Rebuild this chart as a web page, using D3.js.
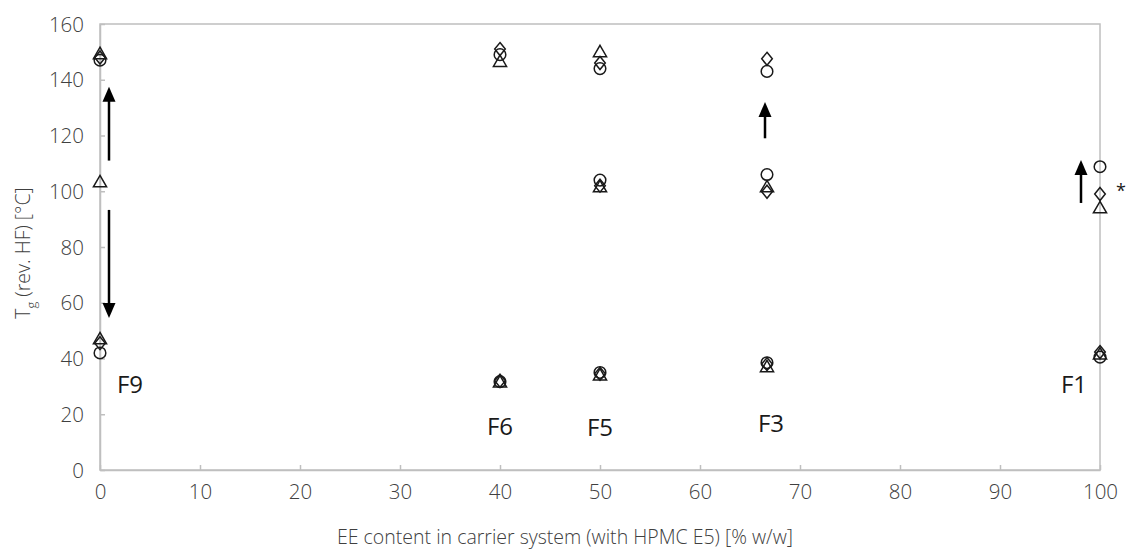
<!DOCTYPE html>
<html>
<head>
<meta charset="utf-8">
<script src="https://cdn.jsdelivr.net/npm/d3@7"></script>
<style>
  body { margin: 0; background: #fff; }
  svg { display: block; font-family: "Open Sans", sans-serif; }
</style>
</head>
<body>
<svg id="chart" width="1127" height="554"></svg>
<script>
// EE content (% w/w) and Tg values
const circlePts = [
  [0, 147], [0, 42],
  [40, 149], [40, 31.7],
  [50, 144], [50, 104], [50, 35],
  [66.7, 143], [66.7, 106], [66.7, 38.5],
  [100, 108.8], [100, 40.5]
];
const trianglePts = [
  [0, 149.3], [0, 103.3], [0, 47],
  [40, 146.5], [40, 31.5],
  [50, 150], [50, 101.5], [50, 34],
  [66.7, 101.5], [66.7, 37],
  [100, 94], [100, 41.5]
];
const diamondPts = [
  [0, 148], [0, 45.5],
  [40, 151], [40, 32],
  [50, 146], [50, 102], [50, 34.5],
  [66.7, 147.5], [66.7, 99.8], [66.7, 38],
  [100, 99], [100, 42.3]
];
const labels = [
  { text: "F9", x: 3, y: 30.5 },
  { text: "F6", x: 40, y: 15.5 },
  { text: "F5", x: 50, y: 15.3 },
  { text: "F3", x: 67.1, y: 16.8 },
  { text: "F1", x: 97.4, y: 30.5 }
];
// arrows: x, from, to (data units)
const arrows = [
  [0.9, 111, 137.5],
  [0.9, 93.3, 54.5],
  [66.5, 119, 132],
  [98.1, 95.8, 111.2]
];
const xTicks = [0, 10, 20, 30, 40, 50, 60, 70, 80, 90, 100];
const yTicks = [0, 20, 40, 60, 80, 100, 120, 140, 160];

const svg = d3.select("#chart");
const x = d3.scaleLinear().domain([0, 100]).range([100, 1100]);
const y = d3.scaleLinear().domain([0, 160]).range([470, 24]);
const gray = "#bfbfbf";
const txt = "#404040";

// frame
svg.append("rect")
  .attr("x", x(0)).attr("y", y(160))
  .attr("width", x(100) - x(0)).attr("height", y(0) - y(160))
  .attr("fill", "none").attr("stroke", gray).attr("stroke-width", 1.5);

const xAxis = svg.append("g")
  .attr("transform", `translate(0,${y(0)})`)
  .call(d3.axisBottom(x).tickValues(xTicks).tickSizeInner(-5).tickSizeOuter(0).tickPadding(14));
const yAxis = svg.append("g")
  .attr("transform", `translate(${x(0)},0)`)
  .call(d3.axisLeft(y).tickValues(yTicks).tickSizeInner(-5).tickSizeOuter(0).tickPadding(16));
[xAxis, yAxis].forEach(g => {
  g.select(".domain").attr("stroke", gray).attr("stroke-width", 1.5);
  g.selectAll(".tick line").attr("stroke", gray).attr("stroke-width", 1.5);
  g.selectAll(".tick text").attr("fill", txt).style("font-size", "20.5px")
    .style("font-weight", 300)
    .style("font-family", "'Open Sans', sans-serif");
});
yAxis.selectAll(".tick text").attr("dy", "0.35em");

// axis titles
svg.append("text")
  .attr("x", 565).attr("y", 544)
  .attr("text-anchor", "middle").attr("fill", txt)
  .style("font-size", "19.5px").style("font-weight", 300)
  .text("EE content in carrier system (with HPMC E5) [% w/w]");

const yt = svg.append("text")
  .attr("transform", "translate(30,253) rotate(-90)")
  .attr("text-anchor", "middle").attr("fill", txt)
  .style("font-size", "19.5px").style("font-weight", 300);
yt.append("tspan").text("T");
yt.append("tspan").attr("dy", 6).style("font-size", "13px").text("g");
yt.append("tspan").attr("dy", -6).text(" (rev. HF) [°C]");

// markers
const sym = svg.append("g").attr("fill", "none").attr("stroke", "#1a1a1a").attr("stroke-width", 1.5);
sym.selectAll(".c").data(circlePts).join("circle")
  .attr("cx", d => x(d[0])).attr("cy", d => y(d[1])).attr("r", 5.8);
const tri = d3.symbol().type(d3.symbolTriangle).size(75);
sym.selectAll(".t").data(trianglePts).join("path")
  .attr("d", tri)
  .attr("transform", d => `translate(${x(d[0])},${y(d[1]) + 1})`);
sym.selectAll(".d").data(diamondPts).join("path")
  .attr("d", "M0,-6.5L5.3,0L0,6.5L-5.3,0Z")
  .attr("transform", d => `translate(${x(d[0])},${y(d[1])})`);

// arrows with filled heads
const headLen = 15, headHalf = 6.5;
const ag = svg.append("g");
arrows.forEach(([ax, from, to]) => {
  const px = x(ax), y1 = y(from), y2 = y(to);
  const dir = y2 < y1 ? -1 : 1;
  ag.append("line")
    .attr("x1", px).attr("x2", px)
    .attr("y1", y1).attr("y2", y2 - dir * headLen * 0.8)
    .attr("stroke", "#000").attr("stroke-width", 2.5);
  ag.append("path")
    .attr("d", `M${px},${y2}L${px - headHalf},${y2 - dir * headLen}L${px + headHalf},${y2 - dir * headLen}Z`)
    .attr("fill", "#000");
});

// formulation labels
svg.selectAll(".lab").data(labels).join("text")
  .attr("x", d => x(d.x)).attr("y", d => y(d.y))
  .attr("text-anchor", "middle").attr("dy", "0.35em")
  .attr("fill", "#1a1a1a").style("font-size", "24px")
  .text(d => d.text);

svg.append("text")
  .attr("x", x(102.1)).attr("y", y(98))
  .attr("text-anchor", "middle").attr("fill", "#1a1a1a")
  .style("font-size", "18px").text("*");
</script>
</body>
</html>
